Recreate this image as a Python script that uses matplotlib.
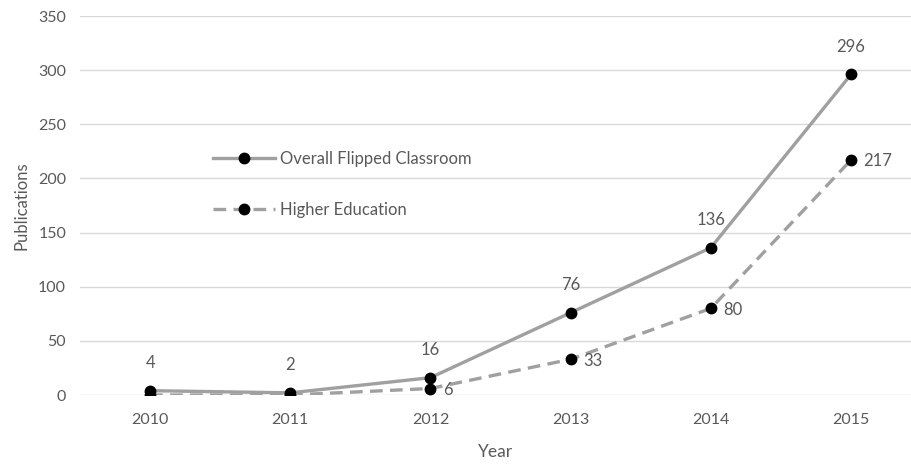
#!/usr/bin/env python3

import matplotlib
matplotlib.use('Agg')
import matplotlib.pyplot as plt

years = ['2010', '2011', '2012', '2013', '2014', '2015']
overall = [4, 2, 16, 76, 136, 296]
higher_ed = [0, 0, 6, 33, 80, 217]
# only these points of the dashed series carry a value label
higher_ed_labelled = [2, 3, 4, 5]


def main():
    plt.rcParams['font.family'] = ['Lato', 'DejaVu Sans']
    text_col = '#595959'
    line_col = '#a0a0a0'

    fig = plt.figure(figsize=(9.12, 4.65), dpi=100)
    ax = fig.add_axes([80 / 912, 70 / 465, 832 / 912, 379 / 465])

    x = list(range(len(years)))
    ax.plot(x, overall, color=line_col, lw=2.4, marker='o', ms=7.5,
            mfc='black', mec='black', label='Overall Flipped Classroom', zorder=3)
    ax.plot(x, higher_ed, color=line_col, lw=2.4, ls=(0, (3.8, 2.2)), marker='o', ms=7.5,
            mfc='black', mec='black', label='Higher Education', zorder=3)

    for xi, v in zip(x, overall):
        ax.annotate(str(v), (xi, v), xytext=(0, 20), textcoords='offset points',
                    ha='center', va='center', fontsize=12, color=text_col)
    for i in higher_ed_labelled:
        ax.annotate(str(higher_ed[i]), (i, higher_ed[i]), xytext=(9, -1),
                    textcoords='offset points', ha='left', va='center',
                    fontsize=12, color=text_col)

    ax.set_xlim(-0.5, (912 - 150) / 140.2)
    ax.set_ylim(0, 350)
    ax.set_xticks(x)
    ax.set_xticklabels(years)
    ax.set_yticks(range(0, 351, 50))
    ax.grid(axis='y', color='#d9d9d9', lw=1)
    ax.set_axisbelow(True)
    for s in ax.spines.values():
        s.set_visible(False)
    ax.tick_params(length=0, labelsize=11.5, colors=text_col, pad=13)
    ax.tick_params(axis='y', pad=10)

    ax.set_xlabel('Year', fontsize=12.5, color=text_col, labelpad=12)
    ax.set_ylabel('Publications', fontsize=12, color=text_col, labelpad=6)

    leg = ax.legend(loc='upper left', bbox_to_anchor=(118 / 832, 259 / 379),
                    frameon=False, fontsize=12, handlelength=3.7,
                    labelspacing=2.1, handletextpad=0.35)
    for t in leg.get_texts():
        t.set_color(text_col)

    fig.savefig('out.png', dpi=100)


if __name__ == "__main__":
    main()
